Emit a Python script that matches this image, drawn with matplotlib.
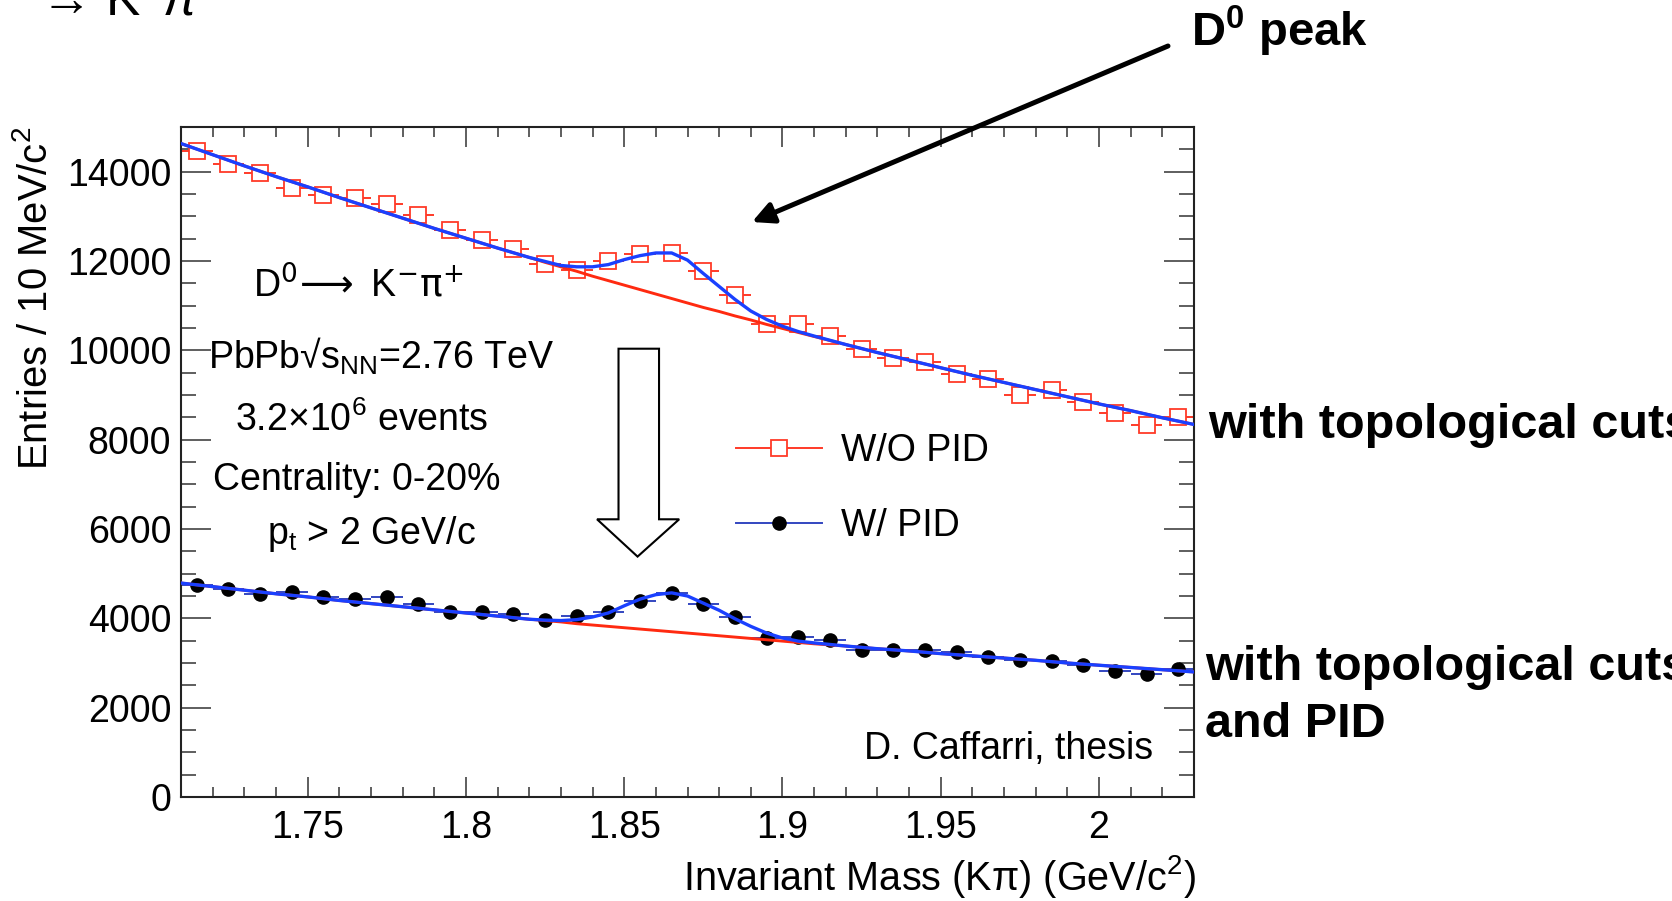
import numpy as np
import matplotlib
matplotlib.use('Agg')
import matplotlib.pyplot as plt
from matplotlib.lines import Line2D
from matplotlib.patches import Polygon
from matplotlib.ticker import MultipleLocator, FixedLocator

plt.rcParams['font.family'] = ['Liberation Sans', 'DejaVu Sans']
plt.rcParams['mathtext.fontset'] = 'custom'
plt.rcParams['mathtext.rm'] = 'Liberation Sans'
plt.rcParams['mathtext.it'] = 'Liberation Sans:italic'
plt.rcParams['mathtext.bf'] = 'Liberation Sans:bold'

# centres des bins (GeV/c^2), bins de 10 MeV
mass = [1.715, 1.725, 1.735, 1.745, 1.755, 1.765, 1.775, 1.785, 1.795, 1.805,
        1.815, 1.825, 1.835, 1.845, 1.855, 1.865, 1.875, 1.885, 1.895, 1.905,
        1.915, 1.925, 1.935, 1.945, 1.955, 1.965, 1.975, 1.985, 1.995, 2.005,
        2.015, 2.025]
half_bin = 0.005

# entries sans PID (carres rouges)
wo_pid = [14460, 14170, 13980, 13630, 13480, 13410, 13280, 13030, 12690, 12480,
          12260, 11940, 11800, 11990, 12150, 12180, 11780, 11250, 10590, 10590,
          10310, 10040, 9830, 9740, 9470, 9350, 9000, 9110, 8850, 8600,
          8330, 8500]
# entries avec PID (points noirs)
w_pid = [4740, 4660, 4540, 4600, 4480, 4430, 4480, 4320, 4140, 4150,
         4100, 3970, 4050, 4150, 4380, 4560, 4310, 4030, 3570, 3580,
         3510, 3290, 3280, 3280, 3250, 3130, 3060, 3050, 2960, 2830,
         2750, 2860]

# courbes de fit
fit_x = [1.71, 1.72, 1.73, 1.74, 1.75, 1.76, 1.77, 1.78, 1.79, 1.80, 1.81, 1.82,
         1.825, 1.83, 1.835, 1.84, 1.845, 1.85, 1.855, 1.86, 1.865, 1.87, 1.875,
         1.88, 1.885, 1.89, 1.895, 1.90, 1.905, 1.91, 1.92, 1.93, 1.94, 1.95,
         1.96, 1.97, 1.98, 1.99, 2.00, 2.01, 2.02, 2.03]
wo_bkg = [14630, 14380, 14130, 13890, 13660, 13420, 13190, 12960, 12730, 12510, 12290, 12080,
          11970, 11870, 11770, 11660, 11560, 11460, 11360, 11260, 11160, 11060, 10960,
          10870, 10770, 10680, 10580, 10490, 10400, 10310, 10130, 9950, 9780, 9610,
          9440, 9280, 9120, 8960, 8800, 8650, 8490, 8340]
wo_total = [14630, 14380, 14130, 13890, 13660, 13420, 13190, 12960, 12730, 12510, 12290, 12080,
            11990, 11900, 11870, 11870, 11920, 12030, 12120, 12180, 12180, 12020, 11720,
            11430, 11140, 10880, 10690, 10540, 10420, 10320, 10130, 9950, 9780, 9610,
            9440, 9280, 9120, 8960, 8800, 8650, 8490, 8340]
w_bkg = [4790, 4710, 4630, 4550, 4480, 4400, 4330, 4260, 4190, 4120, 4050, 3980,
         3950, 3920, 3880, 3850, 3820, 3790, 3760, 3730, 3700, 3670, 3640,
         3610, 3580, 3550, 3520, 3490, 3460, 3430, 3380, 3320, 3270, 3210,
         3160, 3110, 3060, 3000, 2950, 2900, 2850, 2800]
w_total = [4790, 4710, 4630, 4550, 4480, 4400, 4330, 4260, 4190, 4120, 4050, 3980,
           3960, 3950, 3970, 4030, 4120, 4280, 4430, 4530, 4570, 4500, 4340,
           4180, 3990, 3820, 3670, 3560, 3490, 3450, 3380, 3320, 3270, 3210,
           3160, 3110, 3060, 3000, 2950, 2900, 2850, 2800]

xticks = [1.75, 1.80, 1.85, 1.90, 1.95, 2.00]
xtick_labels = ['1.75', '1.8', '1.85', '1.9', '1.95', '2']

red = '#ff3a28'
red_line = '#ff2a10'
blue_fit = '#1a40ff'
blue_hist = '#3346c0'

fig = plt.figure(figsize=(16.72, 9.01), dpi=100)
ax = fig.add_axes([181 / 1672, 1 - 797 / 901, 1013 / 1672, 670 / 901])

# histos
ax.errorbar(mass, wo_pid, xerr=half_bin, fmt='s', ms=11, mfc='white', mec=red,
            mew=1.3, ecolor=red, elinewidth=1.4, capsize=0, zorder=2)
ax.errorbar(mass, w_pid, xerr=half_bin, fmt='o', ms=9.5, mfc='black', mec='black',
            ecolor=blue_hist, elinewidth=1.4, capsize=0, zorder=2)

# fits
ax.plot(fit_x, wo_bkg, color=red_line, lw=2.1, zorder=3)
ax.plot(fit_x, w_bkg, color=red_line, lw=2.1, zorder=3)
ax.plot(fit_x, wo_total, color=blue_fit, lw=2.4, zorder=4)
ax.plot(fit_x, w_total, color=blue_fit, lw=2.4, zorder=4)

ax.set_xlim(1.71, 2.03)
ax.set_ylim(0, 15000)
ax.xaxis.set_major_locator(FixedLocator(xticks))
ax.set_xticklabels(xtick_labels)
ax.xaxis.set_minor_locator(MultipleLocator(0.01))
ax.yaxis.set_major_locator(FixedLocator([0, 2000, 4000, 6000, 8000, 10000, 12000, 14000]))
ax.yaxis.set_minor_locator(MultipleLocator(500))

ax.tick_params(which='both', direction='in', top=True, right=True, width=1.1,
               color='#333333', labelsize=27)
ax.tick_params(axis='x', which='major', length=14.5, pad=9)
ax.tick_params(axis='x', which='minor', length=7.2)
ax.tick_params(axis='y', which='major', length=21.5, pad=7)
ax.tick_params(axis='y', which='minor', length=10.8)
for s in ax.spines.values():
    s.set_linewidth(1.5)
    s.set_color('#222222')

# titres d'axes
fig.text(36 / 1672, 1 - 127 / 901, r'Entries / 10 MeV/c$^{2}$', rotation=90,
         ha='center', va='top', fontsize=28.8)
fig.text(1196 / 1672, 1 - 890 / 901, r'Invariant Mass (K$\mathrm{\pi}$) (GeV/c$^{2}$)',
         ha='right', va='baseline', fontsize=28.5)

# textes dans le cadre
ax.text(0.175, 0.763, r'D$^{0}\!\longrightarrow$ K$^{-}\mathrm{\pi}^{+}$', transform=ax.transAxes,
        ha='center', va='center', fontsize=27, math_fontfamily='dejavusans')
ax.text(0.0266, 0.640, r'PbPb√s$_{\mathrm{NN}}$=2.76 TeV', transform=ax.transAxes,
        ha='left', va='baseline', fontsize=27)
ax.text(0.0529, 0.546, r'3.2×10$^{6}$ events', transform=ax.transAxes,
        ha='left', va='baseline', fontsize=27)
ax.text(0.0318, 0.4575, 'Centrality: 0-20%', transform=ax.transAxes,
        ha='left', va='baseline', fontsize=27)
ax.text(0.0845, 0.378, r'p$_{\mathrm{t}}$ > 2 GeV/c', transform=ax.transAxes,
        ha='left', va='baseline', fontsize=27)
ax.text(0.674, 0.0567, 'D. Caffarri, thesis', transform=ax.transAxes,
        ha='left', va='baseline', fontsize=27)

# fleche creuse vers le bas
arrow_pts = [(0.4319, 0.6691), (0.4719, 0.6691), (0.4719, 0.4145), (0.4918, 0.4145),
             (0.4507, 0.3588), (0.4107, 0.4145), (0.4319, 0.4145)]
ax.add_patch(Polygon(arrow_pts, closed=True, transform=ax.transAxes, facecolor='white',
                     edgecolor='black', lw=1.5, zorder=5))

# legende
h1 = Line2D([], [], color=red, lw=1.4, marker='s', ms=11, mfc='white', mec=red, mew=1.3)
h2 = Line2D([], [], color=blue_hist, lw=1.4, marker='o', ms=9.5, mfc='black', mec='black')
ax.legend([h1, h2], ['W/O PID', 'W/ PID'], loc='upper left', bbox_to_anchor=(0.548, 0.543),
          frameon=False, fontsize=27, handlelength=2.3, handletextpad=0.5,
          labelspacing=1.03, borderpad=0, borderaxespad=0)

# annotations hors cadre
ax.annotate('', xy=(752, 901 - 222), xycoords='figure pixels',
            xytext=(1168, 901 - 46), textcoords='figure pixels',
            arrowprops=dict(arrowstyle='-|>', lw=3.6, color='black', mutation_scale=32,
                            shrinkA=0, shrinkB=0),
            annotation_clip=False)
fig.text(1191 / 1672, 1 - 46 / 901, r'D$^{\mathbf{0}}$ peak', fontsize=34,
         fontweight='bold', ha='left', va='baseline')
fig.text(1208 / 1672, 1 - 438 / 901, 'with topological cuts', fontsize=35,
         fontweight='bold', ha='left', va='baseline')
fig.text(1205 / 1672, 1 - 680 / 901, 'with topological cuts', fontsize=35,
         fontweight='bold', ha='left', va='baseline')
fig.text(1205 / 1672, 1 - 737 / 901, 'and PID', fontsize=35,
         fontweight='bold', ha='left', va='baseline')
fig.text(40 / 1672, 1 - 15 / 901, r'→ K$^{-}\pi^{+}$', fontsize=37,
         ha='left', va='baseline')

fig.savefig('out.png', dpi=100, facecolor='white')
